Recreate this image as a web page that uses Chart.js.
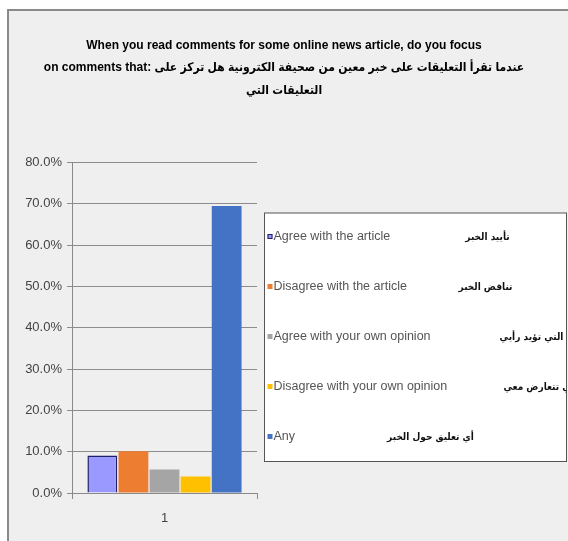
<!DOCTYPE html>
<html><head><meta charset="utf-8">
<script src="https://cdn.jsdelivr.net/npm/chart.js@4.4.1/dist/chart.umd.min.js"></script>
<style>html,body{margin:0;padding:0;background:#fff;overflow:hidden}</style>
</head><body>
<canvas id="c" width="568" height="541"></canvas>
<script>
// ---- data ----
const categories = ['1'];
const seriesLabels = ['Agree with the article', 'Disagree with the article', 'Agree with your own opinion', 'Disagree with your own opinion', 'Any'];
const seriesLabelsAr = ['تأييد الخبر', 'تناقض الخبر', 'التي تؤيد رأيي', 'التي تتعارض معي', 'أي تعليق حول الخبر'];
const seriesValues = [9.1, 10.1, 5.7, 4.0, 69.5];
const yTickValues = [0, 10, 20, 30, 40, 50, 60, 70, 80];
const titleLines = [
  'When you read comments for some online news article, do you focus',
  'on comments that: عندما تقرأ التعليقات على خبر معين من صحيفة الكترونية هل تركز على',
  'التعليقات التي'
];

// ---- styles ----
const fills = ['#9999ff', '#ed7d31', '#a5a5a5', '#ffc000', '#4472c4'];
const borders = ['#1f1f66', '#ed7d31', '#a5a5a5', '#ffc000', '#4472c4'];
const borderWidths = [1.5, 0, 0, 0, 0];
const arCenterOffsets = [223, 221, 267, 278, 166]; // centre of Arabic text, from legend box left
const FONT = "'Liberation Sans', 'DejaVu Sans Condensed', sans-serif";

const framePlugin = {
  id: 'frame',
  beforeDraw(chart) {
    const ctx = chart.ctx;
    ctx.save();
    ctx.fillStyle = '#ffffff';
    ctx.fillRect(0, 0, chart.width, chart.height);
    ctx.fillStyle = '#efefef';
    ctx.fillRect(8, 10, chart.width, chart.height);
    ctx.strokeStyle = '#8a8a8a';
    ctx.lineWidth = 2;
    ctx.strokeRect(8, 10, chart.width + 10, chart.height + 10);
    ctx.restore();
  }
};

const legendPlugin = {
  id: 'boxLegend',
  afterDraw(chart) {
    const ctx = chart.ctx;
    const ca = chart.chartArea;
    const left = ca.right + 7.5, top = ca.top + 50.5;
    const right = chart.width - 1.5, bottom = ca.bottom - 31.5;
    ctx.save();
    ctx.fillStyle = '#ffffff';
    ctx.fillRect(left, top, right - left, bottom - top);
    ctx.strokeStyle = '#555';
    ctx.lineWidth = 1;
    ctx.strokeRect(left, top, right - left, bottom - top);
    ctx.beginPath();
    ctx.rect(left, top, right - left, bottom - top);
    ctx.clip();
    chart.data.datasets.forEach((ds, i) => {
      const y = top + 24 + i * 50;
      ctx.fillStyle = ds.backgroundColor;
      ctx.fillRect(left + 3, y - 3, 5, 5);
      if (ds.borderWidth) {
        ctx.strokeStyle = ds.borderColor;
        ctx.lineWidth = 1;
        ctx.strokeRect(left + 3.5, y - 2.5, 4, 4);
      }
      ctx.fillStyle = '#555';
      ctx.font = "12.5px 'Liberation Sans', sans-serif";
      ctx.textBaseline = 'middle';
      ctx.textAlign = 'left';
      ctx.fillText(ds.label, left + 9, y);
      ctx.fillStyle = '#111';
      ctx.font = "bold 10px 'DejaVu Sans Condensed', 'DejaVu Sans', sans-serif";
      ctx.textAlign = 'center';
      ctx.direction = 'rtl';
      ctx.fillText(seriesLabelsAr[i], left + arCenterOffsets[i], y);
      ctx.direction = 'ltr';
    });
    ctx.restore();
  }
};

new Chart(document.getElementById('c'), {
  type: 'bar',
  data: {
    labels: categories,
    datasets: seriesLabels.map((lab, i) => ({
      label: lab,
      data: [seriesValues[i]],
      backgroundColor: fills[i],
      borderColor: borders[i],
      borderWidth: borderWidths[i],
      categoryPercentage: 0.84,
      barPercentage: 0.96
    }))
  },
  plugins: [framePlugin, legendPlugin],
  options: {
    responsive: false,
    animation: false,
    devicePixelRatio: 1,
    layout: { padding: 0 },
    plugins: {
      legend: { display: false },
      tooltip: { enabled: false },
      title: {
        display: true,
        text: titleLines,
        color: '#000',
        font: { family: FONT, size: 12, weight: 'bold', lineHeight: 1.875 },
        padding: { top: 34, bottom: 61 }
      }
    },
    scales: {
      x: {
        grid: { display: true, drawOnChartArea: false, drawTicks: true, tickLength: 6, color: '#8a8a8a', offset: true },
        border: { display: true, color: '#8a8a8a' },
        ticks: { color: '#444', font: { family: FONT, size: 13 }, padding: 12 },
        afterFit(s) { s.height = 48; }
      },
      y: {
        min: 0, max: 80,
        afterBuildTicks(s) { s.ticks = yTickValues.map(v => ({ value: v })); },
        ticks: { color: '#444', font: { family: FONT, size: 13 }, padding: 5, callback: v => v.toFixed(1) + '%' },
        grid: { color: '#8c8c8c', tickLength: 5 },
        border: { display: true, color: '#8a8a8a' },
        afterFit(s) { s.width = 72; }
      },
      yR: {
        position: 'right',
        display: true,
        grid: { display: false },
        border: { display: false },
        ticks: { display: false },
        afterFit(s) { s.width = 311; }
      }
    }
  }
});
</script>
</body></html>
